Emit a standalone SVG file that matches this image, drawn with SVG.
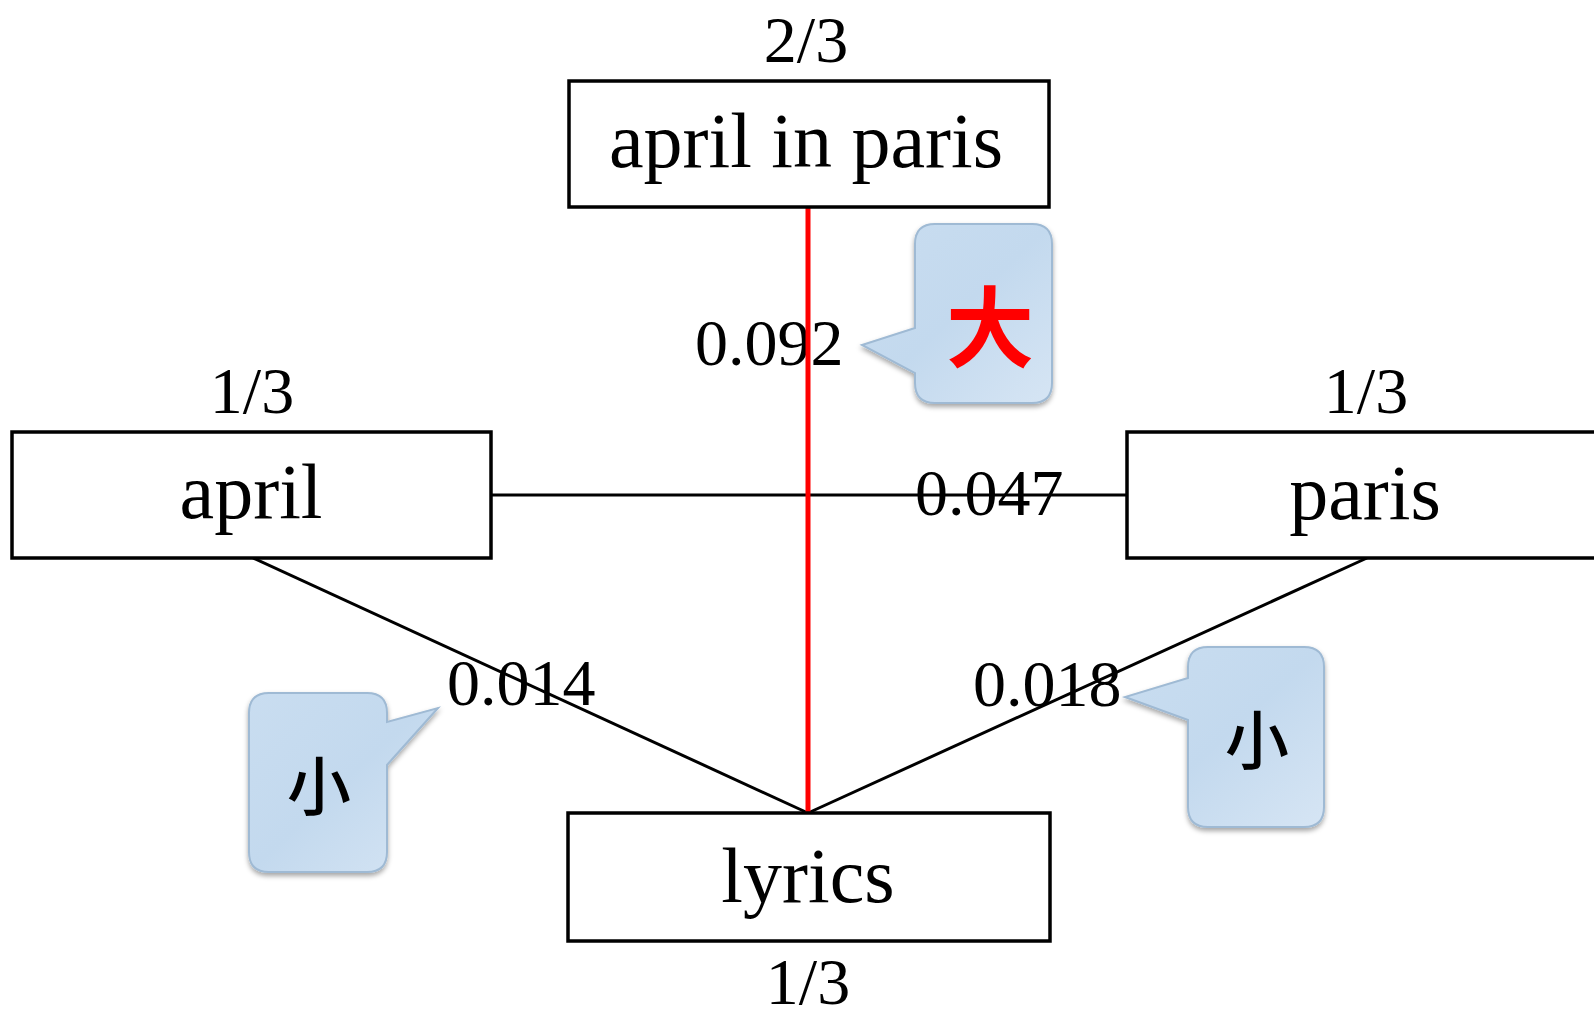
<svg xmlns="http://www.w3.org/2000/svg" width="1594" height="1020" viewBox="0 0 1594 1020">
<style>
.box{fill:#fff;stroke:#000;stroke-width:3.5}
.lbl{font-family:"Liberation Serif","Times New Roman",serif;font-size:78px;fill:#000;text-anchor:middle}
.num{font-family:"Liberation Serif","Times New Roman",serif;font-size:66px;fill:#000}
.edge{stroke:#000;stroke-width:3;fill:none}
.hot{stroke:#f00;stroke-width:5;fill:none}
.call{fill:url(#cg);stroke:#9fbad4;stroke-width:2;filter:url(#sh)}
.cjk{font-family:"Noto Sans CJK SC","Noto Sans CJK JP",sans-serif;text-anchor:middle}
</style>
<defs>
<linearGradient id="cg" x1="0" y1="0" x2="1" y2="1">
<stop offset="0" stop-color="#c9ddf0"/>
<stop offset="0.5" stop-color="#c3d9ee"/>
<stop offset="1" stop-color="#d6e5f4"/>
</linearGradient>
<filter id="sh" x="-20%" y="-20%" width="140%" height="140%">
<feDropShadow dx="0" dy="3" stdDeviation="2.5" flood-color="#000" flood-opacity="0.35"/>
</filter>
</defs>
<rect width="1594" height="1020" fill="#fff"/>
<g id="labels">
<text class="num" x="806" y="62" text-anchor="middle">2/3</text>
<text class="num" x="252" y="413" text-anchor="middle">1/3</text>
<text class="num" x="1366" y="413" text-anchor="middle">1/3</text>
<text class="num" x="808" y="1004" text-anchor="middle">1/3</text>
<text class="num" x="695" y="365">0.092</text>
<text class="num" x="915" y="515">0.047</text>
<text class="num" x="447" y="705">0.014</text>
<text class="num" x="973" y="706">0.018</text>
</g>
<g id="connectors">
<line class="edge" x1="491" y1="495" x2="1127" y2="495"/>
<line class="edge" x1="253" y1="558" x2="808" y2="813"/>
<line class="edge" x1="1367" y1="558" x2="808" y2="813"/>
<line class="hot" x1="808" y1="207" x2="808" y2="813"/>
</g>
<g id="node-april-in-paris">
<rect class="box" x="569" y="81" width="480" height="126"/>
<text class="lbl" x="806" y="167">april in paris</text>
</g>
<g id="node-april">
<rect class="box" x="12" y="432" width="479" height="126"/>
<text class="lbl" x="251" y="518">april</text>
</g>
<g id="node-paris">
<rect class="box" x="1127" y="432" width="480" height="126"/>
<text class="lbl" x="1365" y="519">paris</text>
</g>
<g id="node-lyrics">
<rect class="box" x="568" y="813" width="482" height="128"/>
<text class="lbl" x="808" y="902">lyrics</text>
</g>
<g id="callout-big">
<path class="call" d="M935,224 H1032 Q1052,224 1052,244 V383 Q1052,403 1032,403 H935 Q915,403 915,383 V373 L862,345 L915,328 V244 Q915,224 935,224 Z"/>
<text class="cjk" x="990" y="360" font-size="88" font-weight="bold" fill="#f00">大</text>
</g>
<g id="callout-small-left">
<path class="call" d="M269,693 H367 Q387,693 387,713 V722 L438,708 L387,765 V852 Q387,872 367,872 H269 Q249,872 249,852 V713 Q249,693 269,693 Z"/>
<text class="cjk" x="319" y="810" font-size="64" font-weight="500" fill="#000">小</text>
</g>
<g id="callout-small-right">
<path class="call" d="M1208,647 H1304 Q1324,647 1324,667 V807 Q1324,827 1304,827 H1208 Q1188,827 1188,807 V720 L1125,697 L1188,678 V667 Q1188,647 1208,647 Z"/>
<text class="cjk" x="1257" y="764" font-size="64" font-weight="500" fill="#000">小</text>
</g>
</svg>
